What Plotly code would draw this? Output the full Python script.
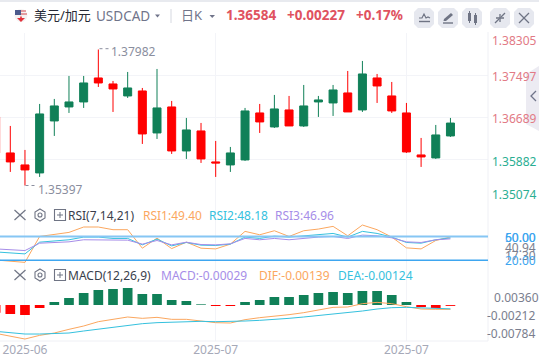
import plotly.graph_objects as go

W, H = 539, 360

# ---------- data ----------
sessions = list(range(-1, 31))
opens = [1.36700, 1.36016, 1.35788, 1.35636, 1.36624, 1.36890, 1.36985, 1.37441, 1.37327, 1.37099, 1.37194, 1.36396, 1.36890, 1.36054, 1.36434, 1.35845, 1.35788, 1.35883, 1.36776, 1.36510, 1.36833, 1.36529, 1.36985, 1.36966, 1.37156, 1.36833, 1.37441, 1.37099, 1.36776, 1.35978, 1.35921, 1.36339]
highs = [1.36700, 1.36529, 1.36073, 1.36947, 1.37042, 1.37479, 1.37479, 1.37982, 1.37384, 1.37555, 1.37251, 1.37612, 1.37004, 1.36681, 1.36586, 1.36244, 1.36130, 1.36871, 1.36947, 1.37118, 1.37099, 1.37308, 1.37099, 1.37308, 1.37574, 1.37764, 1.37517, 1.37365, 1.36966, 1.36301, 1.36548, 1.36681]
lows = [1.36016, 1.35655, 1.35397, 1.35560, 1.36339, 1.36776, 1.36871, 1.37270, 1.36795, 1.37061, 1.36187, 1.36282, 1.35997, 1.35902, 1.35826, 1.35560, 1.35655, 1.35864, 1.36396, 1.36491, 1.36529, 1.36510, 1.36700, 1.36719, 1.36795, 1.36795, 1.36966, 1.36776, 1.36016, 1.35750, 1.35902, 1.36320]
closes = [1.36016, 1.35845, 1.35693, 1.36757, 1.36909, 1.36985, 1.37346, 1.37346, 1.37232, 1.37251, 1.36377, 1.36871, 1.36054, 1.36453, 1.35902, 1.35826, 1.36016, 1.36814, 1.36605, 1.36852, 1.36529, 1.36909, 1.37023, 1.37213, 1.36795, 1.37517, 1.37289, 1.36814, 1.36035, 1.35940, 1.36358, 1.36584]

rsi1 = [20.3, 18.6, 17.3, 50.0, 53.0, 55.1, 61.9, 61.9, 58.5, 58.5, 35.2, 47.9, 34.7, 42.8, 35.2, 34.3, 40.3, 56.4, 52.1, 57.2, 50.0, 57.2, 59.3, 62.7, 50.8, 64.4, 58.5, 49.2, 35.6, 34.3, 44.9, 49.40]
rsi2 = [30.5, 29.7, 28.0, 42.8, 44.5, 45.8, 49.2, 49.2, 47.5, 47.5, 39.4, 46.6, 38.1, 42.4, 39.0, 38.6, 40.3, 49.2, 47.5, 50.4, 49.2, 50.8, 52.1, 53.8, 49.2, 56.4, 53.8, 49.2, 42.4, 41.5, 45.8, 48.18]
rsi3 = [34.3, 33.1, 32.2, 41.5, 42.8, 43.2, 45.8, 45.8, 45.3, 45.3, 40.3, 44.9, 39.4, 42.8, 39.8, 39.4, 40.7, 47.5, 45.8, 47.5, 45.8, 47.9, 49.2, 50.0, 47.5, 51.7, 50.8, 48.3, 43.2, 42.4, 45.8, 46.96]

macd = [-0.00248, -0.00292, -0.00324, -0.00097, 0.00097, 0.00227, 0.00389, 0.00486, 0.00518, 0.00551, 0.00356, 0.00356, 0.00162, 0.00130, 0.00022, -0.00032, -0.00032, 0.00097, 0.00162, 0.00259, 0.00259, 0.00324, 0.00389, 0.00421, 0.00389, 0.00454, 0.00454, 0.00324, 0.00097, -0.00065, -0.00097, -0.00029]
dif = [-0.00918, -0.01004, -0.01102, -0.00983, -0.00907, -0.00788, -0.00680, -0.00540, -0.00454, -0.00389, -0.00432, -0.00400, -0.00464, -0.00464, -0.00518, -0.00572, -0.00583, -0.00475, -0.00410, -0.00367, -0.00313, -0.00248, -0.00173, -0.00076, -0.00065, 0.00043, 0.00086, 0.00043, -0.00054, -0.00130, -0.00140, -0.00139]
dea = [-0.00853, -0.00896, -0.00940, -0.00940, -0.00929, -0.00907, -0.00842, -0.00778, -0.00713, -0.00659, -0.00605, -0.00572, -0.00551, -0.00529, -0.00529, -0.00540, -0.00540, -0.00518, -0.00497, -0.00475, -0.00432, -0.00389, -0.00346, -0.00302, -0.00248, -0.00194, -0.00130, -0.00086, -0.00076, -0.00097, -0.00108, -0.00124]

x_ticks = [1, 14, 27]
x_tick_labels = ["2025-06", "2025-07", "2025-07"]
price_levels = [1.38305, 1.37497, 1.36689, 1.35882, 1.35074]
rsi_levels = [50, 20]

# ---------- palette ----------
UP, DOWN = "#108058", "#ff0000"
ORANGE, CYAN, PURPLE = "#fba75f", "#35c1de", "#a68de8"
GRID = "#f3f4f8"
GREY = "#8a8e9e"
HEAD_RED = "#e0525f"
BTN = "#e6e8ef"
ICON = "#6f7484"
FONT = "Noto Sans, Noto Sans CJK SC, sans-serif"

def px(v): return v / W
def py(v): return 1 - v / H
def dom(top, bot): return [py(bot), py(top)]

RIGHT = 488
x_range = [-0.702, 32.56]

fig = go.Figure()
fig.add_trace(go.Candlestick(
    x=sessions, open=opens, high=highs, low=lows, close=closes,
    increasing=dict(line=dict(color=UP, width=1), fillcolor=UP),
    decreasing=dict(line=dict(color=DOWN, width=1), fillcolor=DOWN),
    whiskerwidth=0, xaxis="x", yaxis="y", showlegend=False, hoverinfo="skip"))

for vals, col in ((rsi1, ORANGE), (rsi2, CYAN), (rsi3, PURPLE)):
    fig.add_trace(go.Scatter(x=sessions, y=vals, mode="lines", line=dict(color=col, width=1),
                             xaxis="x2", yaxis="y2", showlegend=False, hoverinfo="skip"))

fig.add_trace(go.Bar(x=sessions, y=macd, width=0.66,
                     marker=dict(color=[UP if v >= 0 else DOWN for v in macd], line=dict(width=0)),
                     xaxis="x3", yaxis="y3", showlegend=False, hoverinfo="skip"))
for vals, col in ((dif, ORANGE), (dea, CYAN)):
    fig.add_trace(go.Scatter(x=sessions, y=vals, mode="lines", line=dict(color=col, width=1),
                             xaxis="x3", yaxis="y3", showlegend=False, hoverinfo="skip"))

shapes, annos = [], []

def text(x, y, s, color, size=12, anchor="left", bold=False):
    annos.append(dict(xref="paper", yref="paper", x=px(x), y=py(y), text=f"<b>{s}</b>" if bold else s,
                      showarrow=False, xanchor=anchor, yanchor="middle", borderpad=0, borderwidth=0,
                      font=dict(color=color, size=size, family=FONT)))

def line(x0, y0, x1, y1, color, width=1, dash=None):
    l = dict(color=color, width=width)
    if dash: l["dash"] = dash
    shapes.append(dict(type="line", xref="paper", yref="paper", x0=px(x0), y0=py(y0), x1=px(x1), y1=py(y1), line=l))

def path(points, fill=None, color=None, width=1, close=True, layer="above"):
    d = "M" + " L".join(f"{px(a):.5f},{py(b):.5f}" for a, b in points) + (" Z" if close else "")
    shapes.append(dict(type="path", xref="paper", yref="paper", path=d, fillcolor=fill or "rgba(0,0,0,0)",
                       line=dict(color=color or "rgba(0,0,0,0)", width=width), layer=layer))

def rect(x0, y0, x1, y1, fill, layer="above"):
    shapes.append(dict(type="rect", xref="paper", yref="paper", x0=px(x0), y0=py(y0), x1=px(x1), y1=py(y1),
                       fillcolor=fill, line=dict(width=0), layer=layer))

def circle(cx, cy, r, fill=None, color=None, width=1):
    shapes.append(dict(type="circle", xref="paper", yref="paper", x0=px(cx - r), y0=py(cy + r), x1=px(cx + r), y1=py(cy - r),
                       fillcolor=fill or "rgba(0,0,0,0)", line=dict(color=color or "rgba(0,0,0,0)", width=width)))

def button(x0, x1, y0=8, y1=28, r=4):
    path([(x0 + r, y0), (x1 - r, y0), (x1, y0 + r), (x1, y1 - r), (x1 - r, y1), (x0 + r, y1), (x0, y1 - r), (x0, y0 + r)], fill=BTN)

# top strip, header
rect(0, 0, W, 2, "#e8eaef")

# flag
circle(21, 15.5, 6.5, fill="#f4f2f2")
rect(15, 10, 21, 15, "#4c5a8c")
line(21, 11, 26, 11, "#d9636a", 1.2)
line(21, 14, 27, 14, "#d9636a", 1.2)
path([(21, 22), (17, 18), (20, 18), (21, 15.5), (22, 18), (25, 18)], fill="#e2323c")
text(34, 15, "美元/加元", "#262a36", 13)
text(96, 16, "USDCAD", "#70748a", 13.5)
path([(155, 14.5), (160, 14.5), (157.5, 17.5)], fill="#70748a")
line(171, 9, 171, 23, "#d5d8e0")
text(181, 15, "日K", "#70748a", 13)
path([(209.5, 15), (215, 15), (212.2, 18)], fill="#70748a")
text(226, 15, "1.36584", HEAD_RED, 13.5, bold=True)
text(287, 15, "+0.00227", HEAD_RED, 13.5, bold=True)
text(356, 15, "+0.17%", HEAD_RED, 13.5, bold=True)

# toolbar buttons
for a, b in ((414, 434), (438, 458), (462, 482), (490, 510), (514, 534)):
    button(a, b)
path([(419, 18), (422, 18), (424, 14), (426, 18), (428, 17), (430, 18)], color=ICON, width=1.2, close=False)
line(419, 21.5, 430, 21.5, ICON, 1.4)
path([(444, 19), (451, 13), (453, 15), (446, 21), (443.5, 21)], fill=ICON)
line(443, 23, 453, 23, ICON, 1.4)
rect(468, 13, 471, 21, ICON); line(469.5, 11, 469.5, 23, ICON)
rect(474, 15, 477, 23, ICON); line(475.5, 13, 475.5, 25, ICON)
line(495, 23, 499, 19, ICON, 1.3); line(505, 13, 501, 17, ICON, 1.3)
path([(496, 18), (500, 18), (500, 22)], color=ICON, width=1.3, close=False)
path([(500, 14), (500, 18), (504, 18)], color=ICON, width=1.3, close=False)
line(519, 13, 529, 23, ICON, 1.3); line(529, 13, 519, 23, ICON, 1.3)

# right tab
path([(539, 66), (526, 74), (526, 124), (539, 131)], fill="#ecebf2")
path([(536, 91), (531, 96), (536, 101)], color="#70748a", width=1.3, close=False)

# axis border
line(RIGHT, 32, RIGHT, 341, "#eff0f5")

# high/low marks
line(99.5, 48.7, 109, 48.7, GREY, 1, "dot")
text(111, 52, "1.37982", GREY, 12)
line(25.5, 185.5, 36, 185.5, GREY, 1, "dot")
text(38, 189, "1.35397", GREY, 12)

# main axis labels
for y, s, c in ((40, "1.38305", "#e27a85"), (76, "1.37497", "#e27a85"), (119, "1.36689", "#e27a85"),
                (161, "1.35882", "#2aae92"), (194, "1.35074", "#2aae92")):
    text(492, y, s, c, 12)

# pane header icons
def pane_icons(cy):
    line(14.5, cy - 5, 25.5, cy + 5, ICON, 1.2)
    line(25.5, cy - 5, 14.5, cy + 5, ICON, 1.2)
    path([(40, cy - 6), (45, cy - 3), (45, cy + 3), (40, cy + 6), (35, cy + 3), (35, cy - 3)], color=ICON, width=1.1)
    circle(40, cy, 2, color=ICON, width=1.1)
    path([(54.5, cy - 5.5), (65.5, cy - 5.5), (65.5, cy + 5.5), (54.5, cy + 5.5)], color=ICON, width=1.1)
    line(57, cy, 63, cy, ICON); line(60, cy - 3, 60, cy + 3, ICON)

pane_icons(215)
text(68, 215.5, "RSI(7,14,21)", "#3a3e4c", 12)
text(143, 215.5, "RSI1:49.40", ORANGE, 12)
text(209, 215.5, "RSI2:48.18", CYAN, 12)
text(275, 215.5, "RSI3:46.96", PURPLE, 12)

pane_icons(275)
text(68, 275.5, "MACD(12,26,9)", "#3a3e4c", 12)
text(161, 275.5, "MACD:-0.00029", PURPLE, 12)
text(259, 275.5, "DIF:-0.00139", ORANGE, 12)
text(338, 275.5, "DEA:-0.00124", CYAN, 12)

# RSI levels and labels
BLUE = "#3ea6f0"
shapes.append(dict(type="line", xref="x2", yref="y2", x0=x_range[0], x1=x_range[1], y0=rsi_levels[0], y1=rsi_levels[0],
                   line=dict(color="#86c6f4", width=2)))
shapes.append(dict(type="line", xref="x2", yref="y2", x0=x_range[0], x1=x_range[1], y0=rsi_levels[1], y1=rsi_levels[1],
                   line=dict(color=BLUE, width=1.5)))
text(505, 247, "40.94", "#7a7e8e", 12)
text(505, 255, "17.30", "#7a7e8e", 12)
text(505, 237, "60.00", BLUE, 12)
text(505, 237, "50.00", BLUE, 12)
text(505, 260, "20.00", BLUE, 12)

# MACD labels
text(491, 297, "0.00360".rjust(8), "#7a7e8e", 12)
text(486.5, 315.5, "-0.00212", "#7a7e8e", 12)
text(486.5, 333, "-0.00784", "#7a7e8e", 12)

def xax(**kw):
    base = dict(domain=[0, RIGHT / W], range=x_range, showgrid=True, gridcolor=GRID, gridwidth=1,
                tickmode="array", tickvals=x_ticks, ticktext=x_tick_labels, showline=False, zeroline=False,
                rangeslider=dict(visible=False), ticks="", showticklabels=False, fixedrange=True)
    base.update(kw)
    return base

def yax(domain, rng, **kw):
    base = dict(domain=domain, range=rng, side="right", showgrid=False, zeroline=False, showline=False,
                showticklabels=False, ticks="", fixedrange=True)
    base.update(kw)
    return base

fig.update_layout(
    width=W, height=H, autosize=False, margin=dict(l=0, r=0, t=0, b=0),
    paper_bgcolor="white", plot_bgcolor="white", hovermode=False, showlegend=False,
    boxgap=0.455, boxgroupgap=0, bargap=0.3, dragmode=False,
    xaxis=xax(anchor="y"),
    xaxis2=xax(anchor="y2", matches="x"),
    xaxis3=xax(anchor="y3", matches="x", showticklabels=True, tickfont=dict(color="#a6a9b8", size=12, family=FONT)),
    yaxis=yax(dom(32.5, 202.5), [1.35074, 1.38305], showgrid=True, gridcolor=GRID,
              tickmode="array", tickvals=price_levels, ticktext=[f"{v:.5f}" for v in price_levels]),
    yaxis2=yax(dom(202.5, 265), [14.0, 92.8]),
    yaxis3=yax(dom(265, 341), [-0.01166, 0.01296], showgrid=False),
    shapes=shapes + [dict(type="line", xref="paper", yref="paper", x0=0, x1=px(RIGHT), y0=py(341), y1=py(341),
                          line=dict(color="#eff0f5", width=1))],
    annotations=annos,
)

fig.write_html("out.html", config={"displayModeBar": False, "staticPlot": True},
               post_script="document.body.style.margin='0';document.documentElement.style.overflow='hidden';")
